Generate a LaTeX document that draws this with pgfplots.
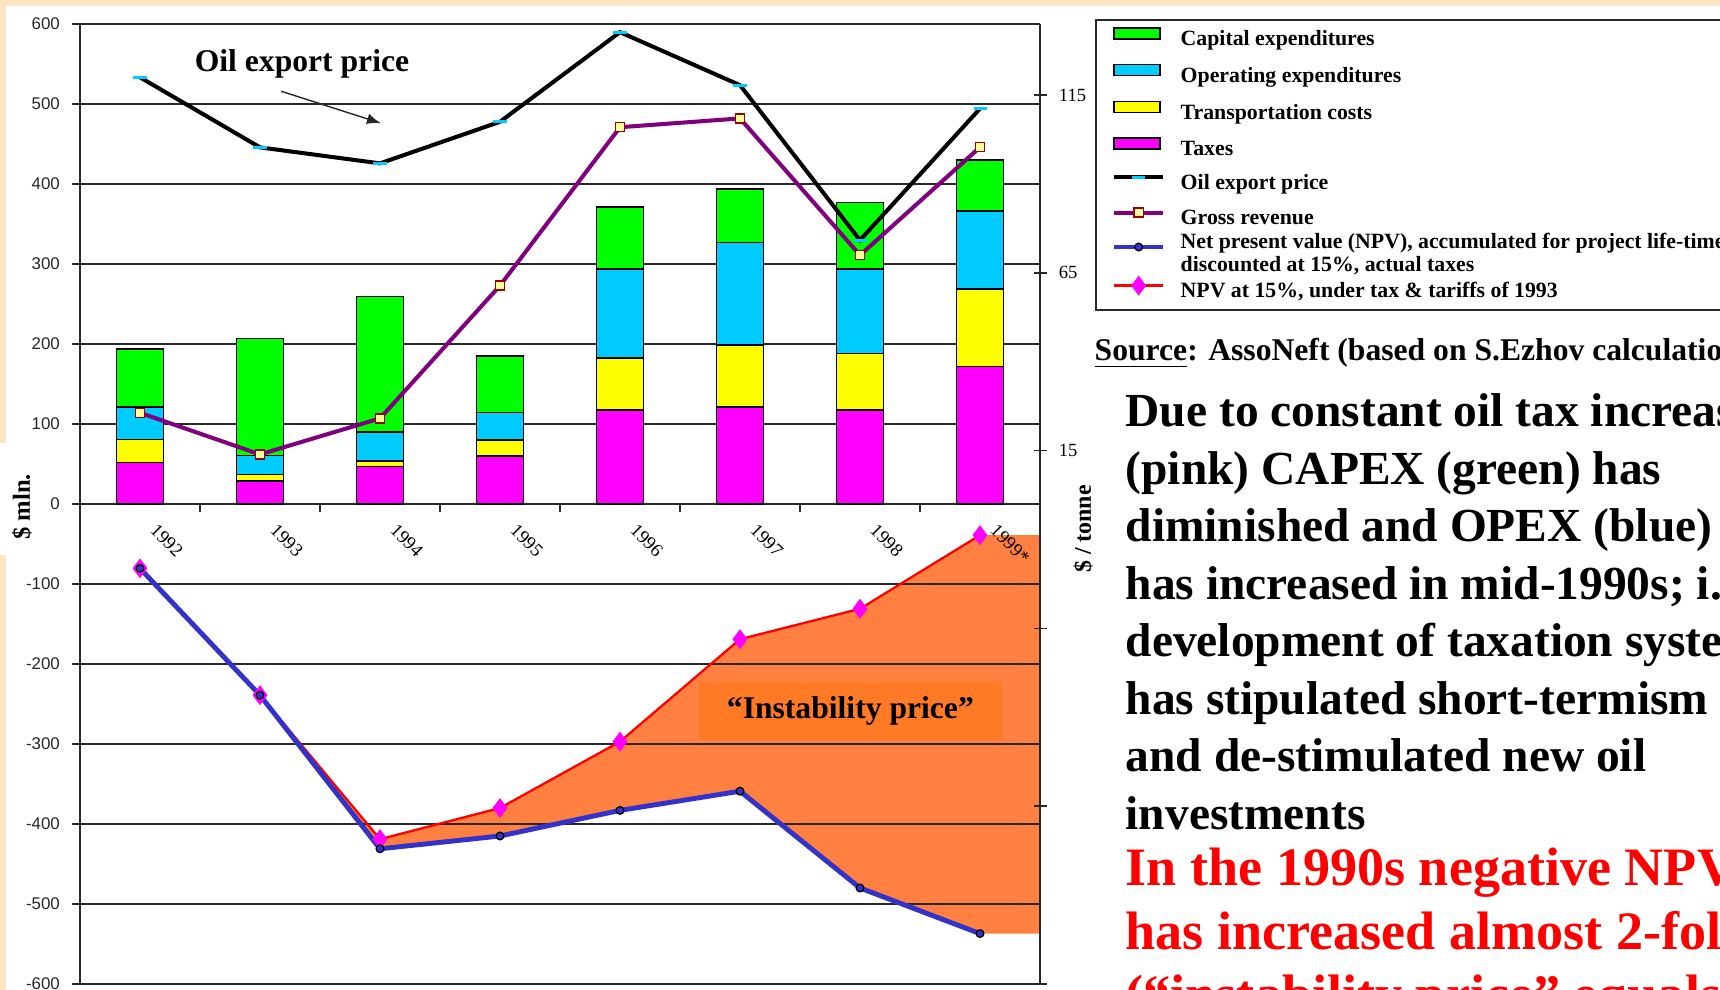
\documentclass[border=0pt]{standalone}
\usepackage{pgfplots}
\pgfplotsset{compat=1.18}
\usepackage{pgfplotstable}
\usepackage{fontspec}
\setmainfont{Liberation Serif}
\setsansfont{Liberation Sans}

\definecolor{capex}{RGB}{0,255,0}
\definecolor{opex}{RGB}{0,204,255}
\definecolor{transp}{RGB}{255,255,0}
\definecolor{taxes}{RGB}{255,0,255}
\definecolor{grossc}{RGB}{128,0,128}
\definecolor{grossfill}{RGB}{255,255,153}
\definecolor{grossedge}{RGB}{153,0,0}
\definecolor{npvblue}{RGB}{51,51,204}
\definecolor{areaor}{RGB}{255,128,64}
\definecolor{boxor}{RGB}{255,122,36}
\definecolor{peach}{RGB}{255,228,196}
\definecolor{gridc}{RGB}{40,40,40}

% $ mln. (left axis)
\pgfplotstableread{
x taxes transp opex capex gross npv npvpre
0 52.0 28.5 41.0 72.0 114 -80.5 -80.5
1 29.0 7.7 23.8 146.5 62 -239 -239
2 47.0 7.0 35.7 169.8 107 -431 -419
3 59.7 20.3 34.3 70.7 273 -415 -380
4 117.6 65.0 111.4 77.0 471 -383 -297
5 121.4 77.6 127.7 67.4 482 -359 -169
6 117.6 70.5 106.0 82.7 311 -480 -131
7 171.9 97.2 97.0 64.0 446 -537 -39
}\costs

% $ / tonne (right axis)
\pgfplotstableread{
x price
0 120.0
1 100.3
2 95.8
3 107.5
4 132.7
5 117.8
6 74.2
7 111.2
}\oil

\pgfplotsset{
  slide axis/.style={scale only axis, width=9.6cm, height=9.6cm,
    at={(0.8cm,0.06cm)}, anchor=south west,
    xmin=-0.5, xmax=7.5, ymin=-600, ymax=600},
  barimg/.style={legend image code/.code={
    \draw[##1, line width=0.45pt] (0mm,0.15mm) rectangle (4.6mm,1.25mm);}},
  lineimg/.style={legend image code/.code={
    \draw[mark repeat=2, mark phase=2, ##1] plot coordinates {(0mm,0.7mm) (2.45mm,0.7mm) (4.9mm,0.7mm)};}},
}

\begin{document}
\begin{tikzpicture}
\useasboundingbox (0,0) rectangle (17.2,9.9);
\clip (0,0) rectangle (17.2,9.9);
\fill[peach] (0,9.84) rectangle (17.2,9.9);
\fill[peach] (0,5.47) rectangle (0.06,9.9);
\fill[peach] (0,0) rectangle (0.06,4.35);

% instability area
\begin{axis}[slide axis, hide axis]
\addplot[fill=areaor, draw=none] coordinates {
  (1,-239) (2,-419) (3,-380) (4,-297) (5,-169) (6,-131) (7,-39) (7.5,-39)
  (7.5,-537) (7,-537) (6,-480) (5,-359) (4,-383) (3,-415) (2,-431) (1,-239)};
\end{axis}

% stacked cost bars, left axis
\begin{axis}[slide axis, ybar stacked, bar width=0.39,
  axis x line*=middle, axis y line*=left,
  axis line style={gridc, line width=0.45pt},
  ymajorgrids, grid style={gridc, line width=0.4pt},
  tick style={gridc, line width=0.45pt}, major tick length=2.2pt,
  ytick align=outside, xtick align=outside,
  ytick={-600,-500,...,600},
  yticklabels={-600,-500,-400,-300,-200,-100,0,100,200,300,400,500,600},
  yticklabel style={font=\sffamily\fontsize{4.8}{5.5}\selectfont, text=black!85},
  xtick={0.5,1.5,...,6.5}, xticklabels={,,,,,,},
  extra x ticks={0,1,...,7},
  extra x tick labels={1992,1993,1994,1995,1996,1997,1998,1999*},
  extra x tick style={major tick length=0pt, grid=none},
  xticklabel style={font=\fontsize{5.3}{6}\selectfont, xshift=1.8mm, yshift=-1.8mm,
    rotate=-45, anchor=north west, inner sep=0pt},
  ylabel={\$ mln.},
  ylabel style={at={(axis description cs:-0.0604,0.497)}, anchor=center,
    font=\fontsize{7}{8}\selectfont\bfseries},
]
\addplot[fill=taxes, draw=black, line width=0.45pt] table[x=x, y=taxes]{\costs};
\addplot[fill=transp, draw=black, line width=0.45pt] table[x=x, y=transp]{\costs};
\addplot[fill=opex, draw=black, line width=0.45pt] table[x=x, y=opex]{\costs};
\addplot[fill=capex, draw=black, line width=0.45pt] table[x=x, y=capex]{\costs};
\end{axis}

% revenue and NPV lines
\begin{axis}[slide axis, hide axis]
\addplot[grossc, line width=1.15pt, mark=square*, mark size=1.3pt,
  mark options={fill=grossfill, draw=grossedge, line width=0.4pt}]
  table[x=x, y=gross]{\costs};
\addplot[red, line width=0.65pt, mark=diamond*, mark size=2.3pt,
  mark options={fill=taxes, draw=taxes}]
  table[x=x, y=npvpre]{\costs};
\addplot[npvblue, line width=1.4pt, mark=*, mark size=1.1pt,
  mark options={fill=npvblue, draw=black, line width=0.35pt}]
  table[x=x, y=npv]{\costs};
\node[font=\fontsize{9}{10}\selectfont\bfseries] at (axis cs:1.35,550) {Oil export price};
\draw[-latex, gridc, line width=0.4pt] (axis cs:1.175,516) -- (axis cs:2.008,476);
\node[fill=boxor, minimum width=30.3mm, minimum height=5.8mm, inner sep=0pt,
  font=\fontsize{9}{10}\selectfont\bfseries] at (axis cs:5.92,-259) {“Instability price”};
\end{axis}

% oil export price, right axis
\begin{axis}[slide axis, ymin=-135, ymax=135,
  axis y line*=right, axis x line=none,
  axis line style={gridc, line width=0.45pt},
  tick style={gridc, line width=0.45pt}, major tick length=3.7pt, ytick align=center,
  ytick={-135,-85,-35,15,65,115}, yticklabels={,,,15,65,115},
  yticklabel style={font=\fontsize{5.3}{6}\selectfont},
  ylabel={\$ / tonne},
  ylabel style={at={(axis description cs:1.0448,0.474)}, anchor=center,
    font=\fontsize{6.8}{8}\selectfont\bfseries},
]
\addplot[black, line width=1.15pt, mark=-, mark size=1.85pt,
  mark options={draw=opex, line width=0.85pt}] table[x=x, y=price]{\oil};
\end{axis}

% legend
\begin{axis}[slide axis, hide axis, legend cell align=left,
  legend style={at={(1.0573,1.0052)}, anchor=north west, draw=gridc, line width=0.5pt,
    fill=white, font=\fontsize{6.2}{7.4}\selectfont\bfseries,
    inner xsep=4.5pt, inner ysep=2.0pt, row sep=3.8pt, column sep=4.3pt,
    nodes={inner sep=0pt, text height=4.4pt, text depth=1.4pt}},
]
\addlegendimage{barimg, fill=capex, draw=black}
\addlegendentry{Capital expenditures}
\addlegendimage{barimg, fill=opex, draw=black}
\addlegendentry{Operating expenditures}
\addlegendimage{barimg, fill=transp, draw=black}
\addlegendentry{Transportation costs}
\addlegendimage{barimg, fill=taxes, draw=black}
\addlegendentry{Taxes}
\addlegendimage{lineimg, sharp plot, black, line width=1.15pt, mark=-, mark size=1.85pt,
  mark options={draw=opex, line width=0.85pt}}
\addlegendentry{Oil export price}
\addlegendimage{lineimg, sharp plot, grossc, line width=1.15pt, mark=square*, mark size=1.3pt,
  mark options={fill=grossfill, draw=grossedge, line width=0.4pt}}
\addlegendentry{Gross revenue}
\addlegendimage{lineimg, sharp plot, npvblue, line width=1.4pt, mark=*, mark size=1.1pt,
  mark options={fill=npvblue, draw=black, line width=0.35pt}}
\addlegendentry{\smash{\parbox[c]{8cm}{\fontsize{6.2}{6.5}\selectfont\bfseries
  Net present value (NPV), accumulated for project life-time,\\
  discounted at 15\%, actual taxes}}}
\addlegendimage{lineimg, sharp plot, red, line width=0.65pt, mark=diamond*, mark size=2.3pt,
  mark options={fill=taxes, draw=taxes}}
\addlegendentry{NPV at 15\%, under tax \& tariffs of 1993}
\end{axis}

\node[anchor=base west, inner sep=0pt, font=\fontsize{9}{10}\selectfont\bfseries]
  at (10.94,6.29) {\underline{Source}: AssoNeft (based on S.Ezhov calculations)};

\foreach \txt [count=\i from 0] in {
  {Due to constant oil tax increase},
  {(pink) CAPEX (green) has},
  {diminished and OPEX (blue)},
  {has increased in mid-1990s; i.e.},
  {development of taxation system},
  {has stipulated short-termism},
  {and de-stimulated new oil},
  {investments}}
  \node[anchor=base west, inner sep=0pt, font=\fontsize{13.5}{16}\selectfont\bfseries]
    at (11.25,{(563-57.5*\i)/100}) {\txt};

\foreach \txt [count=\i from 0] in {
  {In the 1990s negative NPV},
  {has increased almost 2-fold},
  {(“instability price” equals}}
  \node[anchor=base west, inner sep=0pt, text=red, font=\fontsize{15.4}{18}\selectfont\bfseries]
    at (11.25,{(104-63.3*\i)/100}) {\txt};
\end{tikzpicture}
\end{document}
